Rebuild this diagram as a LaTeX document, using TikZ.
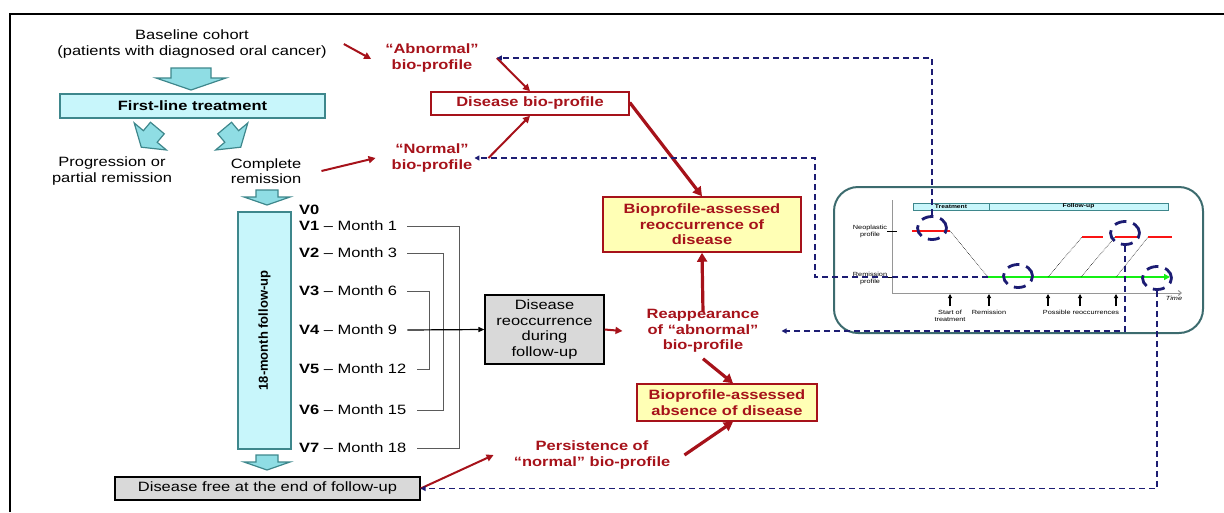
\documentclass[tikz,border=0pt]{standalone}
\usepackage{fontspec}
\setmainfont{Liberation Sans}[FakeStretch=1.22]
\newfontfamily\rotfont{Liberation Sans}
\usetikzlibrary{arrows.meta,shapes.geometric,calc}
\definecolor{dred}{RGB}{166,18,26}
\definecolor{navy}{RGB}{28,28,115}
\definecolor{tealb}{RGB}{62,135,140}
\definecolor{afill}{RGB}{143,221,228}
\definecolor{bfill}{RGB}{200,246,251}
\definecolor{yfill}{RGB}{255,255,181}
\definecolor{gfill}{RGB}{217,217,217}
\definecolor{panelc}{RGB}{60,107,110}
\definecolor{brkc}{RGB}{90,90,90}
\definecolor{axisc}{RGB}{150,150,150}
\definecolor{lgreen}{RGB}{20,240,20}
\definecolor{pred}{RGB}{250,20,20}
\newcommand\fsA{\fontsize{13.5}{15.5}\selectfont}
\newcommand\fsC{\fontsize{6}{7}\selectfont}
\begin{document}
\begin{tikzpicture}[x=1pt,y=-1pt,
  txt/.style={inner sep=2pt,font=\fsA,align=center},
  redtxt/.style={inner sep=2pt,font=\fsA\bfseries,text=dred,align=center},
  barrow/.style={draw=tealb,fill=afill,line width=1.2pt,line join=miter},
  tbox/.style={draw=tealb,fill=bfill,line width=1.5pt,inner sep=0pt},
  rbox/.style={draw=dred,line width=1.5pt,text=dred,font=\fsA\bfseries,align=center,inner sep=0pt,fill=white},
  ybox/.style={rbox,fill=yfill},
  gbox/.style={draw=black,fill=gfill,line width=1.2pt,font=\fsA,align=center,inner sep=0pt},
  rthin/.style={draw=dred,line width=2pt,-{Triangle[length=7pt,width=7pt]}},
  rthick/.style={draw=dred,line width=3.2pt,-{Triangle[length=9pt,width=10pt]}},
  navarr/.style={draw=navy,line width=1.5pt,dash pattern=on 6pt off 4pt,-{Triangle[length=5pt,width=5pt]}},
  vlab/.style={anchor=west,inner sep=2pt,font=\fsA},
  brk/.style={draw=brkc,line width=0.8pt},
  ctxt/.style={font=\fsC,inner sep=0.5pt,align=center},
  dcirc/.style={ellipse,draw=navy,line width=2.8pt,dash pattern=on 12pt off 7pt,minimum width=29pt,minimum height=23pt,inner sep=0pt},
  uparr/.style={draw=black,line width=1.1pt,-{Triangle[length=4pt,width=4pt]}}
]
\useasboundingbox (0,0) rectangle (1224,512);
\draw[line width=2.5pt] (10,512) -- (10,14) -- (1224,14);

% ---------- left column ----------
\node[txt] (base) at (192,44) {Baseline cohort\\(patients with diagnosed oral cancer)};
\draw[barrow] (171,68) -- (211,68) -- (211,78) -- (226,78) -- (191,90) -- (156,78) -- (171,78) -- cycle;
\node[tbox,minimum width=265pt,minimum height=24pt,font=\fsA\bfseries] (flt) at (192.5,106) {First-line treatment};
\begin{scope}[shift={(149,138)},rotate=-40]
\draw[barrow] (-9,-13) -- (9,-13) -- (9,-2) -- (21,-2) -- (0,12) -- (-21,-2) -- (-9,-2) -- cycle;
\end{scope}
\begin{scope}[shift={(233,138)},rotate=40]
\draw[barrow] (-9,-13) -- (9,-13) -- (9,-2) -- (21,-2) -- (0,12) -- (-21,-2) -- (-9,-2) -- cycle;
\end{scope}
\node[txt] (prog) at (112,171) {Progression or\\partial remission};
\node[txt] (comp) at (266,171) {Complete\\remission};
\draw[barrow] (256,190) -- (278,190) -- (278,197) -- (290,197) -- (267,205) -- (244,197) -- (256,197) -- cycle;
\node[tbox,minimum width=53pt,minimum height=237pt] (fu) at (264.5,330.5) {};
\node[rotate=90,inner sep=0pt,font=\rotfont\fontsize{13}{15}\selectfont\bfseries] (fut) at (fu.center) {18-month follow-up};
\draw[barrow] (256,455) -- (278,455) -- (278,462) -- (290,462) -- (267,470) -- (244,462) -- (256,462) -- cycle;
\node[gbox,minimum width=305pt,minimum height=23pt] (dfree) at (267.5,488.5) {Disease free at the end of follow-up};

% ---------- visits ----------
\node[vlab] (v0) at (297,210) {\textbf{V0}};
\node[vlab] (v1) at (297,226) {\textbf{V1} – Month 1};
\node[vlab] (v2) at (297,253) {\textbf{V2} – Month 3};
\node[vlab] (v3) at (297,291) {\textbf{V3} – Month 6};
\node[vlab] (v4) at (297,330) {\textbf{V4} – Month 9};
\node[vlab] (v5) at (297,369) {\textbf{V5} – Month 12};
\node[vlab] (v6) at (297,410) {\textbf{V6} – Month 15};
\node[vlab] (v7) at (297,448) {\textbf{V7} – Month 18};
\draw[brk] ([xshift=8pt]v1.east) -| (459,448) -- ([xshift=8pt]v7.east);
\draw[brk] ([xshift=8pt]v2.east) -| (443,410) -- ([xshift=8pt]v6.east);
\draw[brk] ([xshift=8pt]v3.east) -| (429,369) -- ([xshift=8pt]v5.east);

\node[gbox,minimum width=119pt,minimum height=69pt] (dreocc) at (544.5,329.5) {Disease\\reoccurrence\\during\\follow-up};
\draw[black,line width=1.2pt,-{Triangle[length=6pt,width=5pt]}] ([xshift=8pt]v4.east) -- (dreocc.west);

% ---------- red profile part ----------
\node[redtxt] (abn) at (432,58) {“Abnormal”\\bio-profile};
\node[redtxt] (norm) at (432,158) {“Normal”\\bio-profile};
\node[rbox,minimum width=198pt,minimum height=23pt] (dbp) at (530,103.5) {Disease bio-profile};
\node[ybox,minimum width=198pt,minimum height=55pt] (reocc) at (702,224.5) {Bioprofile-assessed\\reoccurrence of\\disease};
\node[redtxt] (reapp) at (703,331) {Reappearance\\of “abnormal”\\bio-profile};
\node[ybox,minimum width=180pt,minimum height=37pt] (absn) at (727,402.5) {Bioprofile-assessed\\absence of disease};
\node[redtxt] (pers) at (592,455) {Persistence of\\“normal” bio-profile};

\draw[rthin] ([xshift=15pt]base.east) -- ([xshift=-12pt,yshift=-1pt]abn.west);
\draw[rthin] ([xshift=18pt]comp.east) -- ([xshift=-14pt]norm.west);
\draw[rthin] ([xshift=16pt]abn.east) -- (dbp.north);
\draw[rthin] ([xshift=14pt]norm.east) -- (dbp.south);
\draw[rthick] ([yshift=1pt]dbp.east) -- (reocc.north);
\draw[rthick] ([yshift=-5pt]reapp.north) -- (reocc.south);
\draw[rthick] ([yshift=-4pt]reapp.south) -- ([xshift=6pt]absn.north);
\draw[rthick] ([xshift=12pt]pers.east) -- ([xshift=6pt]absn.south);
\draw[rthin] (dfree.east) -- ([xshift=-18pt]pers.west);
\draw[rthin] (dreocc.east) -- ([xshift=-22pt]reapp.west);

% ---------- chart panel ----------
\node[draw=panelc,line width=2pt,rounded corners=24pt,minimum width=369pt,minimum height=146pt,inner sep=0pt] (panel) at (1018.5,260) {};
\draw[axisc,line width=1pt,-{Straight Barb[length=3pt,width=5pt]}] (892,200) -- (892,293) -- (1182,293);
\draw[black,line width=1pt] (887,231) -- (897,231);
\draw[black,line width=1pt] (887,277) -- (897,277);
\node[ctxt] (neo) at (870,231) {Neoplastic\\profile};
\node[ctxt] (remp) at (870,278) {Remission\\profile};
\node[draw=tealb,fill=bfill,line width=0.8pt,minimum width=76pt,minimum height=7pt,inner sep=0pt,font=\fontsize{5.5}{6}\selectfont\bfseries] (trbar) at (951,206.5) {Treatment};
\node[draw=tealb,fill=bfill,line width=0.8pt,minimum width=179pt,minimum height=7pt,inner sep=0pt,font=\fontsize{5.5}{6}\selectfont\bfseries] (fubar) at (1078.5,206.5) {Follow-up};
\node[ctxt,font=\fsC\itshape] (time) at (1174,298) {Time};

\draw[pred,line width=1.6pt] (912,231) -- (950,231);
\draw[black,densely dotted,line width=0.6pt] (950,231) -- (988,277);
\coordinate (rem) at (988,277);
\draw[lgreen,line width=2.2pt,-{Triangle[length=6pt,width=6pt]}] (rem) -- (1170,277);
\draw[black,densely dotted,line width=0.6pt] (1048,277) -- (1082,237);
\draw[pred,line width=1.6pt] (1082,237) -- (1103,237);
\draw[black,densely dotted,line width=0.6pt] (1081,277) -- (1115,237);
\draw[pred,line width=1.6pt] (1115,237) -- (1137,237);
\draw[black,densely dotted,line width=0.6pt] (1116,277) -- (1148,237);
\draw[pred,line width=1.6pt] (1148,237) -- (1172,237);

\node[ctxt] (st) at (950,316) {Start of\\treatment};
\node[ctxt] (rm) at (989,312) {Remission};
\node[ctxt] (pr) at (1081,312) {Possible reoccurrences};
\draw[uparr] (950,306) -- (950,294);
\draw[uparr] (989,306) -- (989,294);
\draw[uparr] (1048,306) -- (1048,294);
\draw[uparr] (1080,306) -- (1080,294);
\draw[uparr] (1116,306) -- (1116,294);

\node[dcirc] (c1) at (932,228) {};
\node[dcirc] (c2) at (1018,276) {};
\node[dcirc] (c3) at (1125,233) {};
\node[dcirc] (c4) at (1157,278) {};

% ---------- navy dashed connectors ----------
\draw[navarr] (c1.north) |- ([xshift=16pt]abn.east);
\draw[navarr] (rem) -| (815,158) -- (norm.east);
\draw[navarr] (c3.south) |- ([xshift=20pt]reapp.east);
\draw[navarr] (c4.south) |- (dfree.east);
\end{tikzpicture}
\end{document}
